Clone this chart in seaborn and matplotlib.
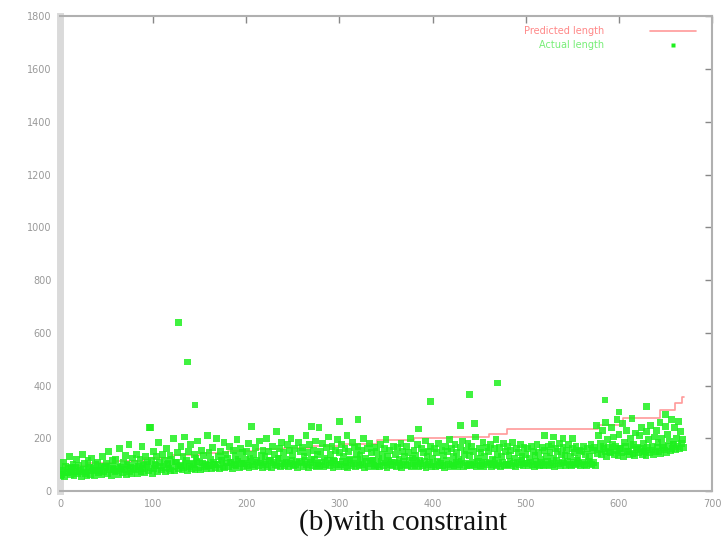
import numpy as np
import pandas as pd
import matplotlib
matplotlib.use("Agg")
import matplotlib.pyplot as plt
import seaborn as sns

# Actual length, one value every 2 units along x (0..668)
actual_y = [
    85, 62, 110, 95, 70, 130, 88, 100, 75, 120,
    98, 80, 140, 105, 72, 115, 90, 125, 85, 100,
    110, 78, 95, 130, 88, 105, 150, 92, 115, 82,
    120, 95, 160, 85, 110, 135, 100, 175, 90, 125,
    105, 140, 92, 120, 170, 98, 130, 110, 240, 115,
    150, 100, 130, 185, 95, 140, 115, 160, 105, 135,
    120, 200, 110, 145, 95, 170, 130, 205, 115, 150,
    175, 105, 140, 125, 190, 110, 155, 135, 100, 210,
    145, 120, 165, 100, 200, 130, 150, 115, 185, 140,
    125, 170, 110, 155, 135, 195, 120, 160, 145, 105,
    150, 180, 125, 245, 140, 165, 110, 190, 135, 155,
    130, 200, 150, 115, 170, 140, 225, 125, 160, 185,
    145, 120, 175, 155, 200, 135, 160, 110, 185, 150,
    165, 130, 210, 145, 175, 120, 155, 190, 140, 240,
    150, 180, 125, 165, 205, 140, 170, 115, 155, 195,
    145, 175, 130, 160, 210, 150, 120, 185, 165, 140,
    170, 135, 155, 200, 125, 160, 180, 145, 115, 165,
    150, 125, 175, 140, 160, 195, 130, 155, 110, 170,
    140, 165, 120, 180, 150, 130, 170, 145, 200, 125,
    155, 135, 175, 115, 160, 145, 190, 130, 150, 170,
    125, 160, 145, 180, 110, 155, 135, 170, 150, 195,
    160, 130, 175, 145, 120, 165, 190, 140, 155, 180,
    135, 170, 150, 205, 125, 160, 145, 185, 130, 165,
    150, 175, 120, 160, 195, 140, 165, 130, 180, 150,
    170, 135, 155, 185, 125, 160, 145, 175, 130, 165,
    140, 160, 125, 170, 150, 135, 175, 145, 120, 165,
    155, 130, 170, 145, 175, 125, 160, 150, 180, 140,
    165, 135, 155, 175, 130, 160, 145, 170, 125, 155,
    150, 170, 140, 160, 130, 175, 155, 165, 250, 210,
    180, 230, 160, 260, 195, 150, 240, 205, 170, 270,
    215, 160, 255, 185, 230, 150, 200, 275, 175, 220,
    165, 210, 240, 180, 155, 225, 195, 250, 170, 205,
    230, 185, 260, 200, 165, 245, 215, 190, 270, 175,
    240, 200, 265, 225, 195,
]
actual_x = list(range(0, 2 * len(actual_y), 2))

# Actual length at the odd x positions (1..669), lower part of the band
actual_y2 = [
    60, 78, 55, 70, 84, 62, 74, 58, 90, 66,
    72, 56, 82, 68, 60, 88, 64, 76, 58, 80,
    70, 86, 62, 74, 92, 66, 80, 60, 84, 72,
    76, 64, 90, 70, 82, 62, 96, 74, 68, 86,
    80, 66, 94, 72, 84, 70, 100, 76, 88, 68,
    84, 96, 74, 108, 80, 90, 72, 102, 86, 78,
    92, 76, 110, 84, 98, 80, 88, 104, 78, 94,
    86, 100, 82, 112, 90, 80, 106, 92, 84, 98,
    96, 84, 110, 90, 102, 86, 118, 94, 88, 106,
    92, 108, 86, 100, 96, 114, 88, 104, 94, 120,
    96, 88, 112, 100, 92, 118, 98, 106, 90, 110,
    102, 94, 116, 88, 108, 100, 96, 122, 92, 104,
    98, 110, 92, 104, 118, 96, 100, 90, 112, 106,
    94, 116, 100, 88, 108, 98, 120, 94, 104, 96,
    110, 92, 102, 118, 96, 106, 90, 114, 100, 94,
    100, 112, 94, 106, 88, 116, 98, 104, 92, 120,
    96, 108, 100, 90, 114, 94, 104, 118, 98, 92,
    102, 94, 112, 98, 106, 90, 116, 100, 96, 110,
    94, 106, 98, 88, 112, 100, 96, 118, 92, 104,
    98, 110, 92, 104, 96, 114, 90, 102, 108, 94,
    100, 92, 112, 96, 106, 98, 90, 116, 100, 94,
    104, 96, 110, 92, 100, 114, 94, 106, 98, 102,
    96, 108, 100, 92, 114, 98, 104, 94, 110, 100,
    106, 94, 100, 116, 96, 104, 92, 110, 98, 102,
    100, 112, 96, 104, 94, 108, 100, 118, 96, 106,
    104, 96, 110, 100, 94, 114, 102, 98, 108, 96,
    102, 112, 98, 106, 100, 94, 116, 104, 98, 110,
    106, 98, 112, 102, 96, 108, 100, 116, 104, 98,
    110, 102, 96, 114, 104, 100, 108, 98, 142, 156,
    138, 170, 148, 132, 164, 146, 178, 140, 152, 136,
    160, 144, 130, 168, 150, 138, 172, 142, 134, 158,
    146, 162, 138, 150, 134, 166, 144, 156, 140, 148,
    164, 150, 142, 172, 156, 146, 168, 152, 160, 178,
    158, 170, 162, 180, 166,
]
actual_x2 = list(range(1, 2 * len(actual_y2), 2))

# scattered high values
outlier_x = [127, 137, 145, 97, 300, 320, 270, 398, 440, 470, 385, 430,
             445, 585, 600, 630, 650, 530, 540, 550, 520]
outlier_y = [640, 489, 326, 240, 265, 270, 245, 340, 365, 410, 235, 250,
             255, 345, 300, 320, 290, 205, 200, 200, 210]

# predicted length (step function)
pred_x = [0, 30, 60, 90, 120, 150, 180, 210, 240, 270, 300, 340, 380,
          420, 460, 480, 577, 604, 644, 660, 668, 670]
pred_y = [95, 105, 115, 125, 135, 145, 150, 158, 165, 172, 180, 195, 200,
          205, 215, 235, 250, 277, 307, 335, 355, 355]

df = pd.DataFrame({"x": actual_x + actual_x2 + outlier_x,
                   "y": actual_y + actual_y2 + outlier_y})
pred = pd.DataFrame({"x": pred_x, "y": pred_y})

sns.set_style("white")
fig = plt.figure(figsize=(7.27, 5.42), dpi=100)
ax = fig.add_axes([0.0825, 0.094, 0.897, 0.876])

sns.lineplot(data=pred, x="x", y="y", ax=ax, color="#ff9a9a", lw=1.2,
             drawstyle="steps-post", zorder=2)
sns.scatterplot(data=df, x="x", y="y", ax=ax, color="#1ef01e", s=24,
                marker="s", edgecolor="none", alpha=0.85, zorder=3)

ax.set_xlim(0, 700)
ax.set_ylim(0, 1800)
ax.set_xticks(range(0, 701, 100))
ax.set_yticks(range(0, 1801, 200))
ax.set_xlabel("")
ax.set_ylabel("")
ax.tick_params(direction="in", length=5, width=1, colors="#888888",
               labelsize=7, top=True, right=True, pad=6)
ax.tick_params(axis="x", labelcolor="#999999")
ax.tick_params(axis="y", labelcolor="#999999")
for side in ["top", "right", "bottom"]:
    ax.spines[side].set_color("#b0b0b0")
    ax.spines[side].set_linewidth(1.5)
ax.spines["left"].set_color("#dadada")
ax.spines["left"].set_linewidth(5)

# gnuplot-style key in the upper right
ax.text(0.835, 0.97, "Predicted length", transform=ax.transAxes,
        ha="right", va="center", fontsize=7, color="#ff8888")
ax.plot([0.905, 0.975], [0.97, 0.97], transform=ax.transAxes,
        color="#ff9a9a", lw=1.2)
ax.text(0.835, 0.94, "Actual length", transform=ax.transAxes,
        ha="right", va="center", fontsize=7, color="#77ee77")
ax.plot([0.94], [0.94], transform=ax.transAxes, marker="s", ms=3,
        color="#1ef01e", mec="none")

fig.text(0.555, 0.035, "(b)with constraint", ha="center", va="center",
         fontsize=21, family="Liberation Serif", color="#111111")

fig.savefig("out.png", dpi=100)
